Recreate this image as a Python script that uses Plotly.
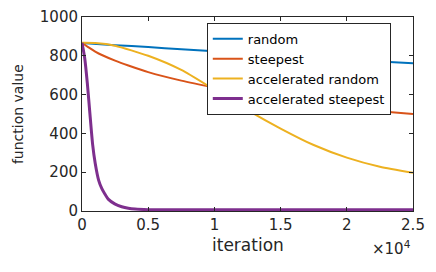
import plotly.graph_objects as go

# ---- data ----
random_iter = [0, 2500, 5000, 7500, 10000, 12500, 15000, 17500, 20000, 22500, 25000]
random_val = [866, 855, 845, 834, 824, 813, 803, 792, 782, 771, 761]

steep_iter = [0, 500, 1000, 1500, 2500, 3500, 5000, 7500, 10000, 12500, 15000, 17500,
              20000, 22500, 25000]
steep_val = [867, 843, 822, 804, 775, 750, 716, 672, 636, 603, 573, 550,
             530, 514, 500]

accr_iter = [0, 1000, 2500, 5000, 7500, 10000, 12500, 15000, 17500, 20000, 22500, 25000]
accr_val = [867, 866, 852, 800, 727, 625, 520, 425, 340, 275, 228, 197]

accs_iter = [0, 200, 400, 600, 800, 1000, 1260, 1500, 1715, 2000, 2470, 3000, 3500,
             4000, 5000, 7500, 10000, 15000, 20000, 25000]
accs_val = [867, 790, 660, 500, 345, 245, 158, 115, 89, 60, 37, 22, 14,
            10, 7, 6, 6, 6, 6, 6]

series_names = ["random", "steepest", "accelerated random", "accelerated steepest"]
colors = ["#0072BD", "#D95319", "#EDB120", "#7E2F8E"]
widths = [2, 2, 2, 3]

x_tickvals = [0, 5000, 10000, 15000, 20000, 25000]
x_ticktext = ["0", "0.5", "1", "1.5", "2", "2.5"]
y_tickvals = [0, 200, 400, 600, 800, 1000]

FONT = "DejaVu Sans"
AX = "#262626"

fig = go.Figure()
for xs, ys, name, c, w in zip(
        [random_iter, steep_iter, accr_iter, accs_iter],
        [random_val, steep_val, accr_val, accs_val],
        series_names, colors, widths):
    fig.add_trace(go.Scatter(x=xs, y=ys, mode="lines", name=name,
                             line=dict(color=c, width=w, shape="spline", smoothing=0.6)))

# the page body has an 8px margin, so the figure is sized to fit the window
fig.update_layout(
    width=428, height=264,
    margin=dict(l=74, r=23, t=9, b=61),
    paper_bgcolor="white", plot_bgcolor="white",
    font=dict(family=FONT, color=AX, size=14),
    showlegend=True,
    legend=dict(x=0.377, y=0.97, xanchor="left", yanchor="top",
                bgcolor="white", bordercolor=AX, borderwidth=1,
                font=dict(family=FONT, size=13, color="#000000"),
                itemwidth=30),
)

fig.update_xaxes(
    range=[0, 25000], tickvals=x_tickvals, ticktext=x_ticktext,
    showgrid=False, zeroline=False, automargin=False,
    showline=True, linecolor=AX, linewidth=1, mirror="ticks",
    ticks="inside", ticklen=4, tickcolor=AX,
    tickfont=dict(family=FONT, size=15, color=AX),
)
fig.update_yaxes(
    range=[0, 1000], tickvals=y_tickvals,
    showgrid=False, zeroline=False, automargin=False,
    showline=True, linecolor=AX, linewidth=1, mirror="ticks",
    ticks="inside", ticklen=4, tickcolor=AX,
    tickfont=dict(family=FONT, size=15, color=AX),
)

# axis titles and exponent label
fig.add_annotation(text="iteration", xref="paper", yref="paper",
                   x=0.5, y=-0.175, xanchor="center", yanchor="middle", showarrow=False,
                   font=dict(family=FONT, size=17, color=AX))
fig.add_annotation(text="function value", xref="paper", yref="paper",
                   x=-0.193, y=0.5, xanchor="center", yanchor="middle", showarrow=False,
                   textangle=-90, font=dict(family=FONT, size=14, color=AX))
fig.add_annotation(text="×10<sup>4</sup>", xref="paper", yref="paper",
                   x=1.0, y=-0.19, xanchor="right", yanchor="middle", showarrow=False,
                   font=dict(family=FONT, size=15, color=AX))

fig.write_html("out.html")
